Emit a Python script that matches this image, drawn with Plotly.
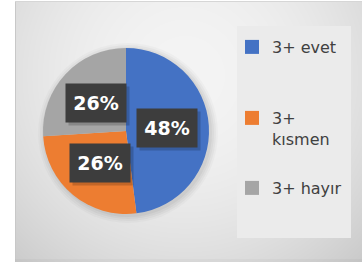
import base64, struct, zlib, math
import numpy as np
import plotly.graph_objects as go

# ---- data ----
labels = ["3+ evet", "3+ kısmen", "3+ hayır"]
legend_labels = ["3+ evet", "3+<br>kısmen", "3+ hayır"]
values = [48, 26, 26]
colors = ["#4472C4", "#ED7D31", "#A5A5A5"]

W, H = 362, 266
cx, cy, R = 126, 131, 83          # pie centre / radius in px

# ---- background gradient panel (png) ----
px0, py0, px1, py1 = 15, 1, 362, 262
pw, ph = px1 - px0, py1 - py0
yy, xx = np.mgrid[0:ph, 0:pw]
d = np.sqrt(((xx + px0) - 185.0) ** 2 + ((yy + py0) - 75.0) ** 2)
g = 244 - 40 * (d / 250.0) ** 2
g = np.clip(g, 196, 246)
g[:, 0] = 200
g[0, :] = 214
g[-3:, :] -= 6
g = g.astype(np.uint8)

def png_gray(arr):
    h, w = arr.shape
    raw = b"".join(b"\x00" + arr[i].tobytes() for i in range(h))
    def chunk(t, dd):
        c = struct.pack(">I", len(dd)) + t + dd
        return c + struct.pack(">I", zlib.crc32(t + dd) & 0xffffffff)
    return (b"\x89PNG\r\n\x1a\n"
            + chunk(b"IHDR", struct.pack(">IIBBBBB", w, h, 8, 0, 0, 0, 0))
            + chunk(b"IDAT", zlib.compress(raw, 9))
            + chunk(b"IEND", b""))

bg_src = "data:image/png;base64," + base64.b64encode(png_gray(g)).decode()

fig = go.Figure()
fig.add_trace(go.Pie(
    labels=labels, values=values, sort=False, direction="clockwise", rotation=0,
    marker=dict(colors=colors, line=dict(width=0)), textinfo="none",
    domain=dict(x=[(cx - R) / W, (cx + R) / W], y=[1 - (cy + R) / H, 1 - (cy - R) / H]),
    showlegend=False, hoverinfo="label+percent",
))

# legend via dummy traces, one legend each
legend_names = ["legend", "legend2", "legend3"]
for lab, col, ln in zip(legend_labels, colors, legend_names):
    fig.add_trace(go.Scatter(x=[None], y=[None], mode="markers", name=lab,
                             marker=dict(symbol="square", size=14, color=col),
                             legend=ln, showlegend=True))

# data labels
total = sum(values)
annotations = []
cum = 0
for v in values:
    th = 2 * math.pi * (cum + v / 2) / total
    cum += v
    lx = cx + 0.5 * R * math.sin(th)
    ly = cy - 0.5 * R * math.cos(th)
    annotations.append(dict(x=(lx + 3) / W, y=1 - (ly + 3) / H, xref="paper", yref="paper",
                            xanchor="center", yanchor="middle",
                            text=" ", showarrow=False, width=60, height=38,
                            bgcolor="rgba(0,0,0,0.18)", borderpad=0))
    annotations.append(dict(x=lx / W, y=1 - ly / H, xref="paper", yref="paper",
                            xanchor="center", yanchor="middle",
                            text=f"{v / total * 100:.0f}%", showarrow=False,
                            width=60, height=38, bgcolor="#3d3d3d", borderpad=0,
                            font=dict(family="DejaVu Sans", size=19, color="white", weight="bold")))

# soft shadow rings around pie
shapes = []
for k, a in [(7, 0.025), (5, 0.03), (3, 0.035), (1, 0.04)]:
    shapes.append(dict(type="circle", xref="paper", yref="paper",
                       x0=(cx - R - k + 2) / W, x1=(cx + R + k + 2) / W,
                       y0=1 - (cy + R + k + 2) / H, y1=1 - (cy - R - k + 2) / H,
                       fillcolor=f"rgba(0,0,0,{a})", line=dict(width=0), layer="below"))
shapes.append(dict(type="rect", xref="paper", yref="paper", x0=237 / W, x1=351 / W,
                   y0=1 - 238 / H, y1=1 - 26 / H, fillcolor="#ebebeb", line=dict(width=0),
                   layer="below"))

legfont = dict(family="DejaVu Sans", size=16, color="#404040")
lx0 = 232 / W
def leg(ypx):
    return dict(x=lx0, y=1 - ypx / H, xanchor="left", yanchor="top", font=legfont,
                bgcolor="rgba(0,0,0,0)", borderwidth=0, valign="top", itemwidth=30)

fig.update_layout(
    width=W, height=H, margin=dict(l=0, r=0, t=0, b=0),
    paper_bgcolor="white", plot_bgcolor="rgba(0,0,0,0)",
    xaxis=dict(visible=False), yaxis=dict(visible=False),
    legend=leg(30), legend2=leg(101), legend3=leg(171),
    annotations=annotations,
    images=[dict(source=bg_src, xref="paper", yref="paper", x=px0 / W, y=1 - py0 / H,
                 sizex=pw / W, sizey=ph / H, sizing="stretch", layer="below",
                 xanchor="left", yanchor="top")],
    shapes=shapes,
)
fig.write_html("out.html", config={"displayModeBar": False},
               post_script="document.body.style.margin='0';")
